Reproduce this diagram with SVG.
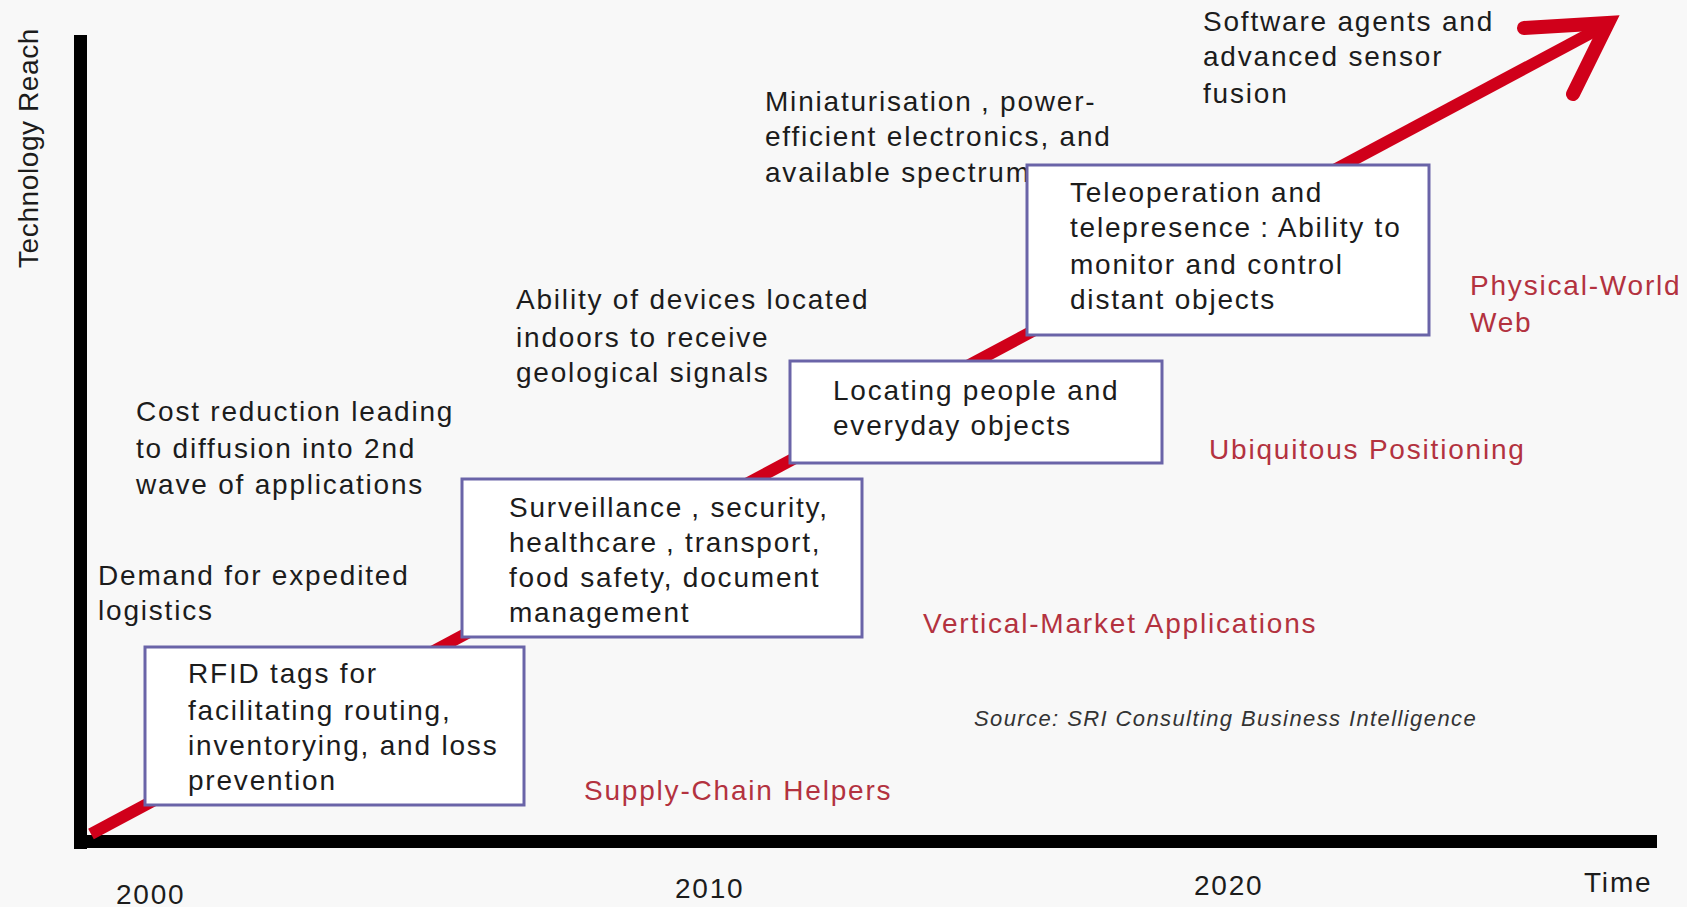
<svg xmlns="http://www.w3.org/2000/svg" width="1687" height="907" viewBox="0 0 1687 907">
<style>
  .t { font-family: "Liberation Sans", Arial, sans-serif; font-size: 28px; letter-spacing: 1.8px; fill: #1c1c1c; }
  .r { font-family: "Liberation Sans", Arial, sans-serif; font-size: 28px; letter-spacing: 1.8px; fill: #b3323f; }
  .src { font-family: "Liberation Sans", Arial, sans-serif; font-size: 22px; font-style: italic; letter-spacing: 1.4px; fill: #333; }
  .box { fill: #ffffff; stroke: #6a64a8; stroke-width: 3; }
  .axis { fill: #000; }
  .red { stroke: #d0001a; fill: none; }
</style>
<rect x="0" y="0" width="1687" height="907" fill="#f8f8f8"/>

<g id="axes">
  <rect class="axis" x="74" y="35" width="13" height="814"/>
  <rect class="axis" x="74" y="835" width="1583" height="13"/>
  <text class="t" transform="translate(38,148) rotate(-90)" text-anchor="middle" style="letter-spacing:0.6px">Technology Reach</text>
  <text class="t" x="116" y="904">2000</text>
  <text class="t" x="675" y="898">2010</text>
  <text class="t" x="1194" y="895">2020</text>
  <text class="t" x="1584" y="892">Time</text>
</g>

<g id="connectors">
  <line class="red" x1="91" y1="834" x2="1604" y2="26" stroke-width="12"/>
  <path class="red" d="M1524,28 L1608,23 L1573,94" stroke-width="14" stroke-linecap="round" stroke-linejoin="miter"/>
</g>

<g id="labels">
  <text class="t" x="1203" y="31">Software agents and</text>
  <text class="t" x="1203" y="66">advanced sensor</text>
  <text class="t" x="1203" y="103">fusion</text>

  <text class="t" x="765" y="111">Miniaturisation<tspan letter-spacing="0.6"> </tspan>, power-</text>
  <text class="t" x="765" y="146">efficient electronics, and</text>
  <text class="t" x="765" y="182">available spectrum</text>

  <text class="t" x="516" y="309">Ability of devices located</text>
  <text class="t" x="516" y="347">indoors to receive</text>
  <text class="t" x="516" y="382">geological signals</text>

  <text class="t" x="136" y="421">Cost reduction leading</text>
  <text class="t" x="136" y="458">to diffusion into 2nd</text>
  <text class="t" x="136" y="494">wave of applications</text>

  <text class="t" x="98" y="585">Demand for expedited</text>
  <text class="t" x="98" y="620">logistics</text>

  <text class="r" x="1470" y="295">Physical-World</text>
  <text class="r" x="1470" y="332">Web</text>
  <text class="r" x="1209" y="459">Ubiquitous Positioning</text>
  <text class="r" x="923" y="633">Vertical-Market Applications</text>
  <text class="r" x="584" y="800">Supply-Chain Helpers</text>

  <text class="src" x="974" y="726">Source: SRI Consulting Business Intelligence</text>
</g>

<g id="node-rfid">
  <rect class="box" x="145" y="647" width="379" height="158"/>
  <text class="t" x="188" y="683">RFID tags for</text>
  <text class="t" x="188" y="720">facilitating routing,</text>
  <text class="t" x="188" y="755">inventorying, and loss</text>
  <text class="t" x="188" y="790">prevention</text>
</g>

<g id="node-surveillance">
  <rect class="box" x="462" y="479" width="400" height="158"/>
  <text class="t" x="509" y="517">Surveillance<tspan letter-spacing="0.4"> </tspan>, security,</text>
  <text class="t" x="509" y="552">healthcare<tspan letter-spacing="0.4"> </tspan>, transport,</text>
  <text class="t" x="509" y="587">food safety, document</text>
  <text class="t" x="509" y="622">management</text>
</g>

<g id="node-locating">
  <rect class="box" x="790" y="361" width="372" height="102"/>
  <text class="t" x="833" y="400">Locating people and</text>
  <text class="t" x="833" y="435">everyday objects</text>
</g>

<g id="node-teleoperation">
  <rect class="box" x="1027" y="165" width="402" height="170"/>
  <text class="t" x="1070" y="202">Teleoperation and</text>
  <text class="t" x="1070" y="237">telepresence<tspan letter-spacing="0.4"> </tspan>: Ability to</text>
  <text class="t" x="1070" y="274">monitor and control</text>
  <text class="t" x="1070" y="309">distant objects</text>
</g>
</svg>
